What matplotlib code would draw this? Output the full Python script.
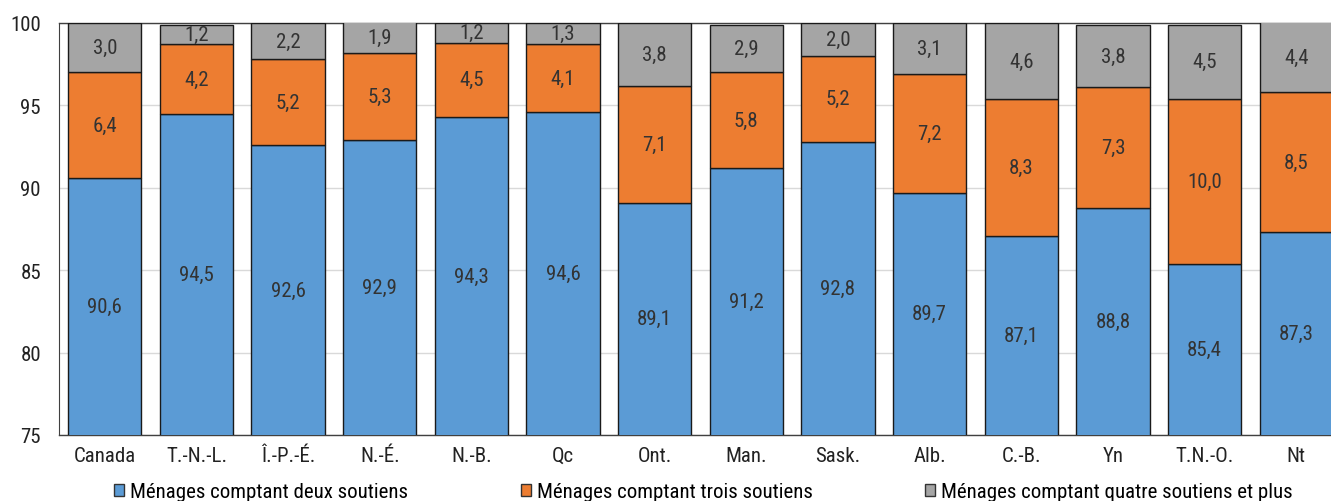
import matplotlib.pyplot as plt
import numpy as np
from matplotlib.patches import Patch

plt.rcParams['font.family'] = ['Roboto Condensed', 'DejaVu Sans']

regions = ['Canada', 'T.-N.-L.', 'Î.-P.-É.', 'N.-É.', 'N.-B.', 'Qc', 'Ont.',
           'Man.', 'Sask.', 'Alb.', 'C.-B.', 'Yn', 'T.N.-O.', 'Nt']
two = [90.6, 94.5, 92.6, 92.9, 94.3, 94.6, 89.1, 91.2, 92.8, 89.7, 87.1, 88.8, 85.4, 87.3]
three = [6.4, 4.2, 5.2, 5.3, 4.5, 4.1, 7.1, 5.8, 5.2, 7.2, 8.3, 7.3, 10.0, 8.5]
four = [3.0, 1.2, 2.2, 1.9, 1.2, 1.3, 3.8, 2.9, 2.0, 3.1, 4.6, 3.8, 4.5, 4.4]
series_names = ['Ménages comptant deux soutiens',
                'Ménages comptant trois soutiens',
                'Ménages comptant quatre soutiens et plus']
colors = ['#5B9BD5', '#ED7D31', '#A5A5A5']

ymin, ymax = 75, 100

fig = plt.figure(figsize=(13.31, 5.02), dpi=100)
ax = fig.add_axes([59 / 1331, 66 / 502, 1283 / 1331, 412 / 502])

x = np.arange(len(regions))
bottom = np.zeros(len(regions))
for vals, col in zip([two, three, four], colors):
    vals = np.array(vals)
    ax.bar(x, vals, 0.8, bottom=bottom, color=col, edgecolor='#1a1a1a', linewidth=1.0, zorder=3)
    for xi, b, v in zip(x, bottom, vals):
        lo = max(b, ymin)
        hi = min(b + v, ymax)
        ax.text(xi, (lo + hi) / 2, '{:.1f}'.format(v).replace('.', ','),
                ha='center', va='center', fontsize=15, color='#333333', zorder=4)
    bottom = bottom + vals

ax.set_xlim(-0.5, 13.5)
ax.set_ylim(ymin, ymax)
ax.set_yticks([75, 80, 85, 90, 95, 100])
ax.set_xticks(x)
ax.set_xticklabels(regions)
ax.tick_params(axis='both', length=0, labelsize=15, colors='#222222')
ax.tick_params(axis='y', pad=13)
ax.tick_params(axis='x', pad=8)
ax.grid(axis='y', color='#d9d9d9', linewidth=1.0, zorder=0)
for s in ['left', 'bottom', 'top']:
    ax.spines[s].set_color('#404040')
    ax.spines[s].set_linewidth(1.0)
ax.spines['left'].set_linewidth(0.8)
ax.spines['right'].set_visible(False)

for name, col, xpos in zip(series_names, colors, [114, 521, 925]):
    h = Patch(facecolor=col, edgecolor='#333333', linewidth=1.0)
    fig.legend([h], [name], loc='center left', bbox_to_anchor=(xpos / 1331, 1 - 493 / 502),
               frameon=False, fontsize=15, handlelength=0.5, handleheight=0.5,
               handletextpad=0.25, borderpad=0, borderaxespad=0)

fig.savefig('out.png', dpi=100)
